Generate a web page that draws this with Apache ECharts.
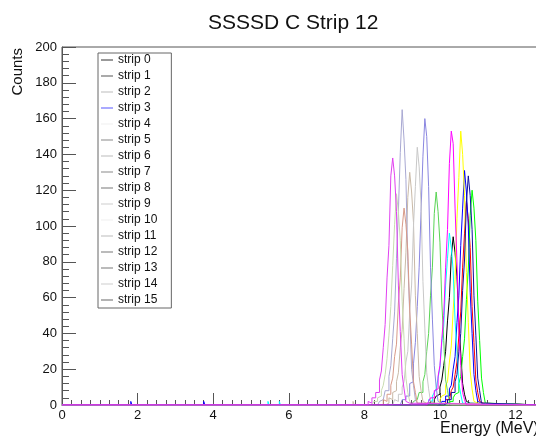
<!DOCTYPE html>
<html>
<head>
<meta charset="utf-8">
<script src="https://cdn.jsdelivr.net/npm/echarts@6/dist/echarts.min.js"></script>
<style>
html,body{margin:0;padding:0;background:#fff;}
#chart{width:536px;height:442px;}
</style>
</head>
<body>
<div id="chart"></div>
<script>
// ---- data ----
const titleText = 'SSSSD C Strip 12';
const xTitle = 'Energy (MeV)';
const yTitle = 'Counts';
const stripNames = ['strip 0','strip 1','strip 2','strip 3','strip 4','strip 5','strip 6','strip 7',
  'strip 8','strip 9','strip 10','strip 11','strip 12','strip 13','strip 14','strip 15'];
const xTicks = [0, 2, 4, 6, 8, 10, 12];
const yTicks = [0, 20, 40, 60, 80, 100, 120, 140, 160, 180, 200];
const binWidth = 0.05;       // MeV per peak bin
const spikeWidth = 0.03;     // MeV per background bin
// lower edge (MeV) of first bin of each strip's peak
const peakStart = [9.70, 10.05, 10.20, 10.00, 9.90, 9.65, 9.60, 9.25, 8.95, 8.10, 8.55, 8.35, 8.75, 8.40, 8.20, 10.10];
const strip0 = [1,2,1,3,5,6,10,14,22,30,47,60,83,94,85,72,46,29,12,6,2,1];
const strip1 = [1,1,3,3,4,8,10,17,24,39,52,77,96,114,104,88,55,35,14,7,2,1];
const strip2 = [0,2,2,4,6,7,12,16,27,37,59,76,106,120,110,92,58,36,15,7,1,1];
const strip3 = [1,2,2,5,5,9,11,20,27,46,61,89,110,131,119,100,63,40,17,8,2,1];
const strip4 = [1,1,3,5,6,11,13,24,33,53,70,104,127,153,140,117,74,46,19,9,2,1];
const strip5 = [1,2,4,4,8,9,16,22,37,50,77,98,135,153,146,110,80,42,22,7,3,0];
const strip6 = [0,1,3,2,5,7,9,15,21,35,44,67,82,96,88,75,47,30,12,6,1,1];
const strip7 = [1,2,3,3,7,7,13,17,30,40,61,77,107,119,108,91,57,36,14,8,2,0];
const strip8 = [1,3,3,5,5,12,13,23,35,55,77,108,139,160,150,122,77,48,22,10,2,1];
const strip9 = [2,1,4,4,7,7,14,19,32,45,71,89,128,138,128,108,67,41,17,9,2,1];
const strip10 = [1,1,4,3,7,8,13,18,32,42,65,85,116,130,119,102,61,40,16,8,2,1];
const strip11 = [1,2,3,4,8,8,16,22,37,52,82,108,141,165,148,126,80,51,20,11,3,1];
const strip12 = [0,3,2,6,6,10,13,24,30,52,67,100,122,144,133,112,69,43,18,9,2,1];
const strip13 = [1,0,3,2,6,6,11,15,27,34,57,71,99,110,101,86,53,34,13,7,1,1];
const strip14 = [1,2,2,4,5,8,11,17,26,39,55,78,101,118,108,92,58,37,15,7,2,0];
const strip15 = [1,1,3,3,7,7,13,17,30,40,64,81,113,128,117,98,61,39,15,8,1,1];
// sparse low-energy background bins: owning strip, lower edge (MeV), counts
const spikeStrip = [3,3,2,3,7,6,6,6,6,6,7,13,10,10,11];
const spikeEnergy = [1.82,3.50,3.30,3.75,2.90,5.30,5.45,5.75,5.90,6.30,7.00,7.40,7.55,7.70,7.85];
const spikeCounts = [2,1,1,2,1,1,2,2,1,1,1,1,1,2,1];
// ---- styling ----
const lineColors = ['#000000','#ff0000','#00ff00','#0000ff','#ffff00','#ff00ff','#00ffff','#59d454',
  '#8a86e0','#e040f0','#c9b9a6','#a8a8d2','#c8c8c8','#d89a88','#c8dcb0','#1010a0'];
const legendColors = ['#333','#555','#bbb','#5555ff','#eee','#888','#bbb','#888',
  '#777','#ccc','#eee','#bbb','#777','#777','#ccc','#666'];

const allCounts = [strip0,strip1,strip2,strip3,strip4,strip5,strip6,strip7,strip8,strip9,strip10,strip11,strip12,strip13,strip14,strip15];
const xMax = 12.7;

function buildPoints(s) {
  const segs = [];
  for (let k = 0; k < spikeEnergy.length; k++) {
    if (spikeStrip[k] === s) segs.push({start: spikeEnergy[k], w: spikeWidth, c: [spikeCounts[k]]});
  }
  segs.push({start: peakStart[s], w: binWidth, c: allCounts[s]});
  segs.sort((a, b) => a.start - b.start);
  const pts = [[0, 0]];
  segs.forEach(sg => {
    sg.c.forEach((v, i) => pts.push([+(sg.start + i * sg.w).toFixed(4), v]));
    pts.push([+(sg.start + sg.c.length * sg.w).toFixed(4), 0]);
  });
  pts.push([xMax, 0]);
  return pts;
}

const series = stripNames.map((name, s) => ({
  name: name,
  type: 'line',
  step: 'end',
  symbol: 'none',
  animation: false,
  data: buildPoints(s),
  lineStyle: {color: lineColors[s], width: 1},
  itemStyle: {color: lineColors[s]},
  z: (s === 5 || s === 9) ? 3 : 2
}));

const chart = echarts.init(document.getElementById('chart'), null, {renderer: 'canvas'});
const font = 'Liberation Sans, Arial, Helvetica, sans-serif';
chart.setOption({
  animation: false,
  backgroundColor: '#ffffff',
  title: {
    text: titleText,
    left: 203, top: 8,
    textStyle: {fontFamily: font, fontSize: 21, fontWeight: 'normal', color: '#111'}
  },
  grid: {left: 62, top: 47, width: 480, height: 358, containLabel: false, outerBoundsMode: 'none',
    show: true, borderColor: '#555', borderWidth: 1, backgroundColor: 'transparent'},
  legend: {
    orient: 'vertical',
    left: 98, top: 53,
    padding: [1, 14, 2, 3],
    itemWidth: 12, itemHeight: 12, itemGap: 4,
    borderColor: '#666', borderWidth: 1, backgroundColor: '#fff',
    textStyle: {fontFamily: font, fontSize: 12, color: '#111'},
    selectedMode: false,
    data: stripNames.map((n, s) => ({name: n, icon: 'path://M0,5L12,5L12,6L0,6Z', itemStyle: {color: legendColors[s]}}))
  },
  xAxis: {
    type: 'value', min: 0, max: xMax, interval: 2,
    axisLine: {show: true, lineStyle: {color: '#555'}},
    axisTick: {show: true, inside: true, length: 12, lineStyle: {color: '#555'}},
    minorTick: {show: true, splitNumber: 8, length: 5, lineStyle: {color: '#555'}},
    splitLine: {show: false},
    axisLabel: {showMaxLabel: false, fontFamily: font, fontSize: 13, color: '#111', margin: 4,
      formatter: v => (xTicks.indexOf(v) >= 0 ? String(v) : '')}
  },
  yAxis: {
    type: 'value', min: 0, max: 200, interval: 20,
    axisLine: {show: true, lineStyle: {color: '#555'}},
    axisTick: {show: true, inside: true, length: 14, lineStyle: {color: '#555'}},
    minorTick: {show: true, splitNumber: 5, length: 7, lineStyle: {color: '#555'}},
    splitLine: {show: false},
    axisLabel: {fontFamily: font, fontSize: 13, color: '#111', margin: 5,
      formatter: v => (yTicks.indexOf(v) >= 0 ? String(v) : '')}
  },
  graphic: [
    {type: 'text', x: 18, y: 48, rotation: Math.PI / 2,
      style: {text: yTitle, font: '15px ' + font, fill: '#111', textAlign: 'right', textVerticalAlign: 'middle'}},
    {type: 'text', x: 440, y: 429,
      style: {text: xTitle, font: '16px ' + font, fill: '#111', textAlign: 'left', textVerticalAlign: 'middle'}}
  ],
  series: series
});
</script>
</body>
</html>
